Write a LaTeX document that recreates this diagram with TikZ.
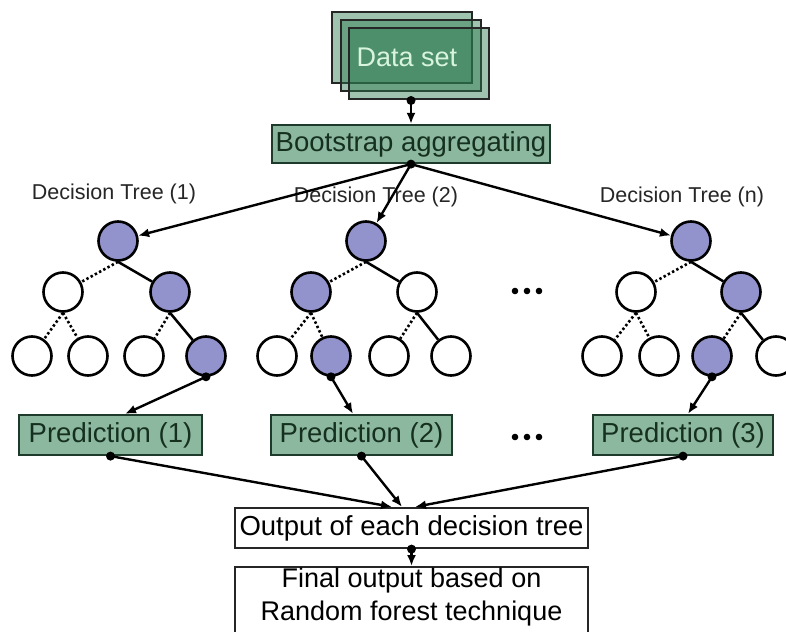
\documentclass[tikz,border=0pt]{standalone}
\usepackage{fontspec}
\setmainfont{Liberation Sans}
\usetikzlibrary{arrows.meta}

\definecolor{boxgreen}{HTML}{8DB8A0}
\definecolor{boxline}{HTML}{1E3A2A}
\definecolor{boxtext}{HTML}{15301F}
\definecolor{datagreen}{HTML}{2C7A4F}
\definecolor{datatext}{HTML}{D8F5DC}
\definecolor{nodeblue}{HTML}{9292CC}

\tikzset{
  stage/.style={draw=boxline, line width=2.2pt, fill=boxgreen, text=boxtext,
    inner sep=0pt, minimum height=40pt, font=\fontsize{27.5}{30}\selectfont},
  plainbox/.style={draw=black!85, line width=2.2pt, fill=white, inner sep=0pt,
    font=\fontsize{27.5}{30}\selectfont},
  datasheet/.style={draw=black!85, line width=2pt, fill=datagreen,
    fill opacity=0.45, minimum width=140pt, minimum height=71pt, inner sep=0pt},
  tn/.style={circle, draw=black, line width=2.6pt, minimum size=39pt,
    inner sep=0pt, fill=white},
  tf/.style={tn, fill=nodeblue},
  solidedge/.style={line width=2.5pt},
  dotedge/.style={line width=2.6pt, dash pattern=on 2.4pt off 2.4pt},
  flow/.style={line width=2.4pt, -{Latex[length=11pt,width=9pt]}},
  treelabel/.style={font=\fontsize{21.5}{24}\selectfont, text=black!85},
}

\begin{document}
\begin{tikzpicture}[x=1pt, y=-1pt]
\useasboundingbox (0,0) rectangle (786,631);
\fill[white] (0,0) rectangle (786,631);

% stacked data set sheets
\node[datasheet] (ds1) at (402,47.5) {};
\node[datasheet] (ds2) at (410.5,55.5) {};
\node[datasheet] (ds3) at (419,64) {};
\node[text=datatext, font=\fontsize{27}{30}\selectfont] (dstxt) at (407,57) {Data set};

% bagging stage
\node[stage, minimum width=278pt, minimum height=38pt] (boot) at (411,144) {Bootstrap aggregating};

% tree captions
\node[treelabel] (lab1) at (114,194) {Decision Tree (1)};
\node[treelabel] (lab2) at (376,197) {Decision Tree (2)};
\node[treelabel] (labn) at (682,197) {Decision Tree (n)};

% tree 1
\node[tf] (t1r)  at (118,241) {};
\node[tn] (t1a)  at (63,292) {};
\node[tf] (t1b)  at (170,292) {};
\node[tn] (t1aa) at (32,356) {};
\node[tn] (t1ab) at (88,356) {};
\node[tn] (t1ba) at (144,356) {};
\node[tf] (t1bb) at (206,356) {};

% tree 2
\node[tf] (t2r)  at (366,241) {};
\node[tf] (t2a)  at (311,292) {};
\node[tn] (t2b)  at (417,292) {};
\node[tn] (t2aa) at (277,356) {};
\node[tf] (t2ab) at (331,356) {};
\node[tn] (t2ba) at (389,356) {};
\node[tn] (t2bb) at (451,356) {};

% tree n
\node[tf] (tnr)  at (691,241) {};
\node[tn] (tna)  at (636,292) {};
\node[tf] (tnb)  at (741,292) {};
\node[tn] (tnaa) at (602,356) {};
\node[tn] (tnab) at (659,356) {};
\node[tf] (tnba) at (712,356) {};
\node[tn] (tnbb) at (776,356) {};

% tree branches
\foreach \t in {t1,t2,tn}{
  \draw[dotedge]   (\t r.south) -- (\t a);
  \draw[solidedge] (\t r.south) -- (\t b);
  \draw[dotedge]   (\t a.south) -- (\t aa);
  \draw[dotedge]   (\t a.south) -- (\t ab);
  \draw[dotedge]   (\t b.south) -- (\t ba);
}
\draw[solidedge] (t1b.south) -- (t1bb);
\draw[solidedge] (t2b.south) -- (t2bb);
\draw[solidedge] (tnb.south) -- (tnbb);

% ellipses between trees
\foreach \x in {515,527,539}{
  \fill (\x,291) circle (3.3pt);
  \fill (\x,437) circle (3.3pt);
}

% predictions
\node[stage, minimum width=183pt] (p1) at (110.5,435) {Prediction (1)};
\node[stage, minimum width=181pt] (p2) at (361.5,435) {Prediction (2)};
\node[stage, minimum width=180pt] (p3) at (683,435) {Prediction (3)};

% combination and final result
\node[plainbox, minimum width=353pt, minimum height=40pt] (out) at (411.5,528) {Output of each decision tree};
\node[plainbox, anchor=north, minimum width=353pt, minimum height=90pt] (fin) at (411.5,566) {};
\node[font=\fontsize{27}{33}\selectfont, align=center] (fintxt) at (411.5,597)
  {Final output based on\\Random forest technique};

% connectors
\draw[flow] (ds3.south -| boot.north) -- (boot.north);
\fill (ds3.south -| boot.north) circle (4.5pt);

\draw[flow] (boot.south) -- (t1r);
\draw[flow] (boot.south) -- (t2r);
\draw[flow] (boot.south) -- (tnr);
\fill (boot.south) circle (4.5pt);

\draw[flow] (t1bb.south) -- ([xshift=14.5pt]p1.north);
\draw[flow] (t2ab.south) -- ([xshift=-8.5pt]p2.north);
\draw[flow] (tnba.south) -- ([xshift=5pt]p3.north);
\fill (t1bb.south) circle (4.5pt);
\fill (t2ab.south) circle (4.5pt);
\fill (tnba.south) circle (4.5pt);

\draw[flow] (p1.south) -- ([xshift=-19.5pt]out.north);
\draw[flow] (p2.south) -- ([xshift=-9.5pt]out.north);
\draw[flow] (p3.south) -- ([xshift=3.5pt]out.north);
\fill (p1.south) circle (4.5pt);
\fill (p2.south) circle (4.5pt);
\fill (p3.south) circle (4.5pt);

\draw[flow] (out.south) -- (fin.north);
\fill (out.south) circle (4.5pt);
\end{tikzpicture}
\end{document}
